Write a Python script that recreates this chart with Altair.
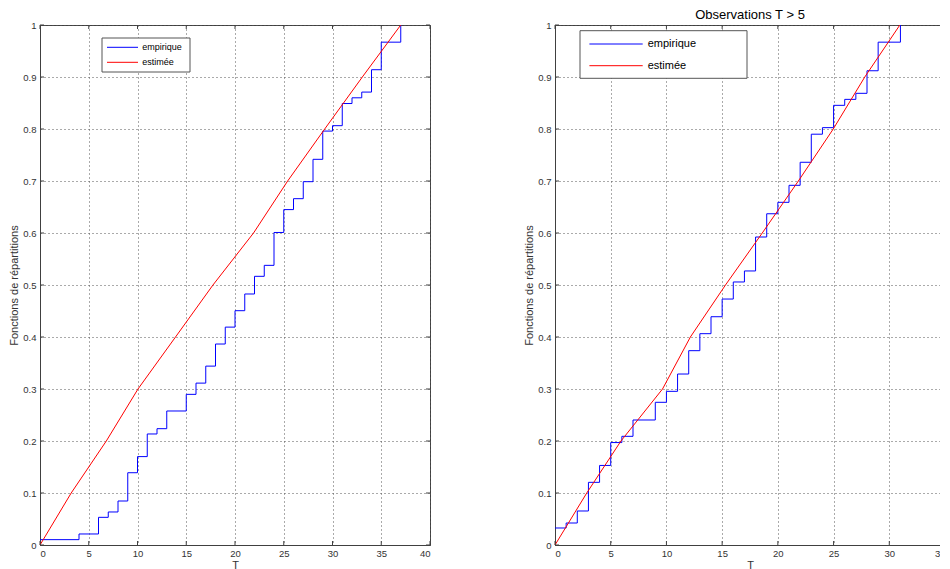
import altair as alt
import pandas as pd

# ---------------- data ----------------
series = ["empirique", "estimée"]
series_colors = ["#0000ff", "#ff0000"]
y_ticks = [0, 0.1, 0.2, 0.3, 0.4, 0.5, 0.6, 0.7, 0.8, 0.9, 1]
left_x_ticks = [0, 5, 10, 15, 20, 25, 30, 35, 40]
right_x_ticks = [0, 5, 10, 15, 20, 25, 30, 35]

# left panel : all observations
left_emp_T = [0, 4, 6, 7, 8, 9, 10, 11, 12, 13, 15, 16, 17, 18, 19, 20, 21, 22, 23, 24,
              25, 26, 27, 28, 29, 30, 31, 32, 33, 34, 35, 37]
left_emp_F = [0.0103, 0.0212, 0.0532, 0.0635, 0.0846, 0.139, 0.170, 0.2135, 0.2237, 0.2577,
              0.2897, 0.3113, 0.344, 0.3865, 0.419, 0.4506, 0.4827, 0.5167, 0.5378, 0.601,
              0.645, 0.666, 0.6987, 0.7417, 0.796, 0.8064, 0.849, 0.860, 0.871, 0.914, 0.967, 1.0]
left_est_T = [0, 3.2, 6.8, 10.05, 13.9, 17.74, 21.9, 25.4, 29.2, 33.06, 37]
left_est_F = [0, 0.1, 0.2, 0.3, 0.4, 0.5, 0.6, 0.7, 0.8, 0.9, 1.0]

# right panel : observations T > 5
right_emp_T = [0, 1, 2, 3, 4, 5, 6, 7, 9, 10, 11, 12, 13, 14, 15, 16, 17, 18, 19, 20,
               21, 22, 23, 24, 25, 26, 27, 28, 29, 31]
right_emp_F = [0.0327, 0.0423, 0.0654, 0.1205, 0.153, 0.197, 0.209, 0.2404, 0.2744, 0.2955,
               0.3288, 0.3737, 0.4064, 0.439, 0.473, 0.5058, 0.527, 0.5923, 0.637, 0.659,
               0.6917, 0.736, 0.790, 0.8026, 0.8455, 0.857, 0.8686, 0.912, 0.967, 1.0]
right_est_T = [0, 2.85, 5.92, 9.65, 12.15, 15.3, 18.6, 21.84, 24.97, 27.8, 30.95]
right_est_F = [0, 0.1, 0.2, 0.3, 0.4, 0.5, 0.6, 0.7, 0.8, 0.9, 1.0]

right_title = "Observations T > 5"
x_title = "T"
y_title = "Fonctions de répartitions"

# ---------------- styling ----------------
W, H = 390, 520
FONT = "Liberation Sans"
INK = "#333333"
FRAME = "#404040"


def legend_layers(box, rows_y, line_x, text_x, font_size):
    """MATLAB-like legend box drawn inside the plot area."""
    x0, y0, x1, y1 = box
    dummy = pd.DataFrame({"k": [0]})
    layers = [
        alt.Chart(dummy).mark_rect(fill="white", stroke="#555555", strokeWidth=1).encode(
            x=alt.value(x0), x2=alt.value(x1), y=alt.value(y0), y2=alt.value(y1))
    ]
    for name, colr, yy in zip(series, series_colors, rows_y):
        layers.append(
            alt.Chart(dummy).mark_rule(color=colr, strokeWidth=1).encode(
                x=alt.value(line_x[0]), x2=alt.value(line_x[1]), y=alt.value(yy)))
        layers.append(
            alt.Chart(dummy).mark_text(text=name, align="left", baseline="middle",
                                       font=FONT, fontSize=font_size, color="black").encode(
                x=alt.value(text_x), y=alt.value(yy)))
    return layers


def panel(emp_T, emp_F, est_T, est_F, x_ticks, leg, title=None):
    xs = alt.Scale(domain=[0, x_ticks[-1]], nice=False, zero=False)
    ys = alt.Scale(domain=[0, 1], nice=False, zero=False)
    xaxis = alt.Axis(values=x_ticks, format="d", title=x_title)
    yaxis = alt.Axis(values=y_ticks, format=".1~f", title=y_title)
    col = alt.Color("serie:N", scale=alt.Scale(domain=series, range=series_colors),
                    legend=None)
    emp = pd.DataFrame({"T": emp_T, "F": emp_F, "serie": series[0]})
    est = pd.DataFrame({"T": est_T, "F": est_F, "serie": series[1]})

    step = alt.Chart(emp).mark_line(interpolate="step-after", strokeWidth=1).encode(
        x=alt.X("T:Q", scale=xs, axis=xaxis),
        y=alt.Y("F:Q", scale=ys, axis=yaxis),
        color=col,
    )
    red = alt.Chart(est).mark_line(strokeWidth=1).encode(
        x=alt.X("T:Q", scale=xs, axis=xaxis),
        y=alt.Y("F:Q", scale=ys, axis=yaxis),
        color=col,
    )
    xt = pd.DataFrame({"T": x_ticks})
    yt = pd.DataFrame({"F": y_ticks})
    tb = alt.Chart(xt).mark_rule(color=FRAME, strokeWidth=1).encode(
        x=alt.X("T:Q", scale=xs, axis=xaxis), y=alt.value(H), y2=alt.value(H - 4))
    tt = alt.Chart(xt).mark_rule(color=FRAME, strokeWidth=1).encode(
        x=alt.X("T:Q", scale=xs, axis=xaxis), y=alt.value(0), y2=alt.value(4))
    tl = alt.Chart(yt).mark_rule(color=FRAME, strokeWidth=1).encode(
        y=alt.Y("F:Q", scale=ys, axis=yaxis), x=alt.value(0), x2=alt.value(4))
    tr = alt.Chart(yt).mark_rule(color=FRAME, strokeWidth=1).encode(
        y=alt.Y("F:Q", scale=ys, axis=yaxis), x=alt.value(W - 4), x2=alt.value(W))

    props = dict(width=W, height=H)
    if title:
        props["title"] = alt.TitleParams(title, fontSize=13, fontWeight="normal",
                                         font=FONT, color="black", offset=-2)
    return alt.layer(step, red, tb, tt, tl, tr, *leg).properties(**props)


left_leg = legend_layers((62, 13, 150, 47), (22.3, 37.3), (67, 98), 102.3, 9)
right_leg = legend_layers((25, 5.7, 192, 53.3), (19, 40.7), (34.4, 87.7), 92.7, 11)

left = panel(left_emp_T, left_emp_F, left_est_T, left_est_F, left_x_ticks, left_leg)
right = panel(right_emp_T, right_emp_F, right_est_T, right_est_F, right_x_ticks,
              right_leg, right_title)

chart = (
    alt.hconcat(left, right, spacing=125, bounds="flush")
    .resolve_scale(x="independent", y="independent", color="independent")
    .properties(padding={"left": 0, "top": 0, "right": -6, "bottom": 0})
    .configure(font=FONT)
    .configure_view(stroke=FRAME, strokeWidth=1)
    .configure_axis(
        labelFont=FONT, labelFontSize=9.5, labelColor=INK,
        titleFont=FONT, titleFontSize=11, titleFontWeight="normal", titleColor=INK,
        domainColor=FRAME, domainWidth=1, ticks=False, tickSize=0,
        grid=True, gridColor="#555555", gridDash=[1, 3], gridOpacity=1, gridWidth=1,
        labelOverlap=False,
    )
    .configure_axisX(labelPadding=3, titlePadding=2)
    .configure_axisY(labelPadding=4, titlePadding=3)
)

chart.save("out.html", embed_options={"renderer": "svg", "actions": False})
